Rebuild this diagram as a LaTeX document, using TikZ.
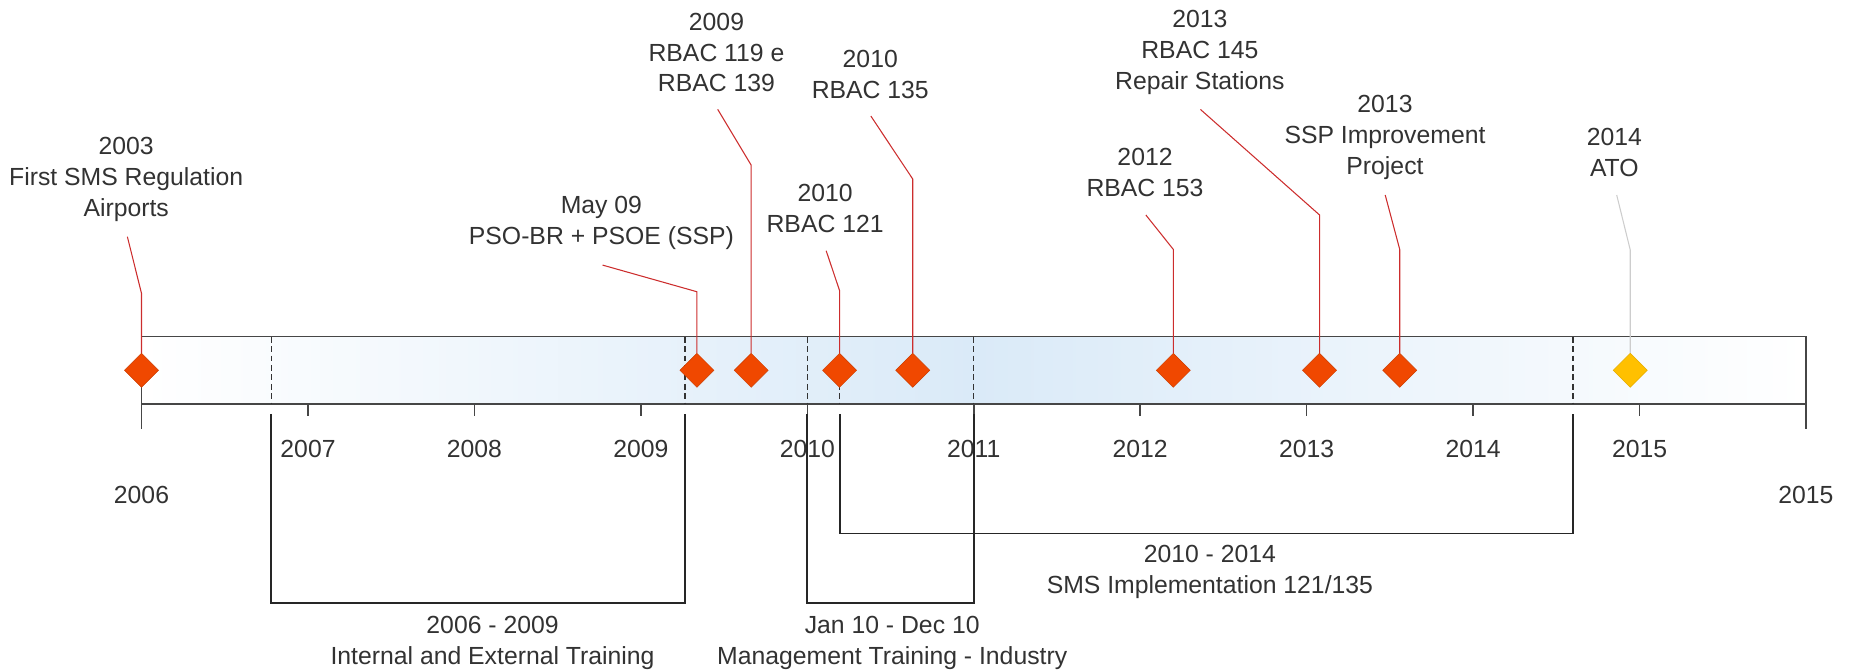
\documentclass[tikz,border=0pt]{standalone}
\usepackage{fontspec}
\setmainfont{Liberation Sans}
\usetikzlibrary{shapes.geometric}

\definecolor{mileorange}{RGB}{240,72,0}
\definecolor{mileyellow}{RGB}{255,192,0}
\definecolor{callred}{RGB}{204,45,45}
\definecolor{callgray}{RGB}{205,205,205}
\definecolor{barblue}{RGB}{218,234,248}
\definecolor{barframe}{RGB}{70,70,70}
\definecolor{txtgray}{RGB}{50,50,50}

\tikzset{
	milestone/.style={diamond, fill=mileorange, draw=mileorange!85!black, line width=.4pt,
		minimum width=29pt, minimum height=29pt, inner sep=0pt},
	milefuture/.style={milestone, fill=mileyellow, draw=mileyellow!90!black},
	callout/.style={draw=callred, line width=.9pt},
	calloutfuture/.style={draw=callgray, line width=.9pt},
	barline/.style={draw=barframe, line width=1.3pt},
	phase/.style={draw=black!80, line width=1.1pt, dash pattern=on 5pt off 3pt},
	bracket/.style={draw=black!85, line width=1.6pt},
	txt/.style={text=txtgray, align=center, inner sep=0pt, font=\fontsize{21}{26.2}\selectfont},
}

\begin{document}
\begin{tikzpicture}[x=1pt,y=-1pt]
	\useasboundingbox (0,0) rectangle (1568,568);
	
	% timeline bar
	\shade[left color=white, right color=barblue] (120,285.5) rectangle (825.8,342.5);
	\shade[left color=barblue, right color=white] (825.8,285.5) rectangle (1531.5,342.5);
	\draw[barline] (120,285.5) rectangle (1531.5,342.5);
	
	\draw[phase] (230,285.5) -- (230,342.5);
	\draw[phase] (581,285.5) -- (581,342.5);
	\draw[phase] (684.6,285.5) -- (684.6,342.5);
	\draw[phase] (712,285.5) -- (712,342.5);
	\draw[phase] (825.8,285.5) -- (825.8,342.5);
	\draw[phase] (1334,285.5) -- (1334,342.5);
	
	% years
	\draw[barline] (120,342.5) -- (120,364);
	\draw[barline] (1531.5,342.5) -- (1531.5,364);
	\draw[barline] (261.2,342.5) -- ++(0,10) (402.3,342.5) -- ++(0,10) (543.5,342.5) -- ++(0,10)
		(684.6,342.5) -- ++(0,10) (825.8,342.5) -- ++(0,10) (966.9,342.5) -- ++(0,10)
		(1108,342.5) -- ++(0,10) (1249.2,342.5) -- ++(0,10) (1390.4,342.5) -- ++(0,10);
	
	\node[txt] (ystart) at (120,420) {2006};
	\node[txt] (yend) at (1531.5,420) {2015};
	\node[txt] (y07) at (261.2,381) {2007};
	\node[txt] (y08) at (402.3,381) {2008};
	\node[txt] (y09) at (543.5,381) {2009};
	\node[txt] (y10) at (684.6,381) {2010};
	\node[txt] (y11) at (825.8,381) {2011};
	\node[txt] (y12) at (966.9,381) {2012};
	\node[txt] (y13) at (1108,381) {2013};
	\node[txt] (y14) at (1249.2,381) {2014};
	\node[txt] (y15) at (1390.4,381) {2015};
	
	% phases below the bar
	\draw[bracket] (230,351) -- (230,511) -- (581,511) -- (581,351);
	\draw[bracket] (684.6,351) -- (684.6,511) -- (825.8,511) -- (825.8,351);
	\draw[bracket] (712,351) -- (712,452.4) -- (1334,452.4) -- (1334,351);
	
	\node[txt] (ptrain) at (417.7,545) {2006 - 2009\\Internal and External Training};
	\node[txt] (pmgmt) at (756.6,545) {Jan 10 - Dec 10\\Management Training - Industry};
	\node[txt] (psms) at (1026,484.8) {2010 - 2014\\SMS Implementation 121/135};
	
	% milestones
	\node[milestone] (m03) at (120,314) {};
	\node[milestone] (m09a) at (591,314) {};
	\node[milestone] (m09) at (637,314) {};
	\node[milestone] (m10a) at (712,314) {};
	\node[milestone] (m10b) at (774,314) {};
	\node[milestone] (m12) at (995,314) {};
	\node[milestone] (m13a) at (1119,314) {};
	\node[milestone] (m13b) at (1187,314) {};
	\node[milefuture] (m14) at (1382.5,314) {};
	
	\coordinate (e03) at (108,200.7);
	\coordinate (e09a) at (511,224.8);
	\coordinate (e09) at (608.6,92.7);
	\coordinate (e10a) at (700.6,212.6);
	\coordinate (e10b) at (738.5,98.4);
	\coordinate (e12) at (971.7,182.3);
	\coordinate (e13a) at (1018,92.8);
	\coordinate (e13b) at (1174.7,165.4);
	\coordinate (e14) at (1371,165.4);
	
	\draw[callout] (m03.north) -- (m03.north |- 0,248.8) -- (e03);
	\draw[callout] (m09a.north) -- (m09a.north |- 0,247.4) -- (e09a);
	\draw[callout] (m09.north) -- (m09.north |- 0,140) -- (e09);
	\draw[callout] (m10a.north) -- (m10a.north |- 0,246.5) -- (e10a);
	\draw[callout] (m10b.north) -- (m10b.north |- 0,151.8) -- (e10b);
	\draw[callout] (m12.north) -- (m12.north |- 0,211.5) -- (e12);
	\draw[callout] (m13a.north) -- (m13a.north |- 0,182.3) -- (e13a);
	\draw[callout] (m13b.north) -- (m13b.north |- 0,211.5) -- (e13b);
	\draw[calloutfuture] (m14.north) -- (m14.north |- 0,212) -- (e14);
	
	\node[txt] (l03) at (107,152.3) {2003\\First SMS Regulation\\Airports};
	\node[txt] (l09a) at (510,188.7) {May 09\\PSO-BR + PSOE (SSP)};
	\node[txt] (l09) at (607.6,44.5) {2009\\RBAC 119 e\\RBAC 139};
	\node[txt] (l10a) at (699.7,177) {2010\\RBAC 121};
	\node[txt] (l10b) at (738,62.9) {2010\\RBAC 135};
	\node[txt] (l12) at (971,146.3) {2012\\RBAC 153};
	\node[txt] (l13a) at (1017.5,44.5) {2013\\RBAC 145\\Repair Stations};
	\node[txt] (l13b) at (1174.5,116.4) {2013\\SSP Improvement\\Project};
	\node[txt] (l14) at (1369,129.1) {2014\\ATO};
\end{tikzpicture}
\end{document}
